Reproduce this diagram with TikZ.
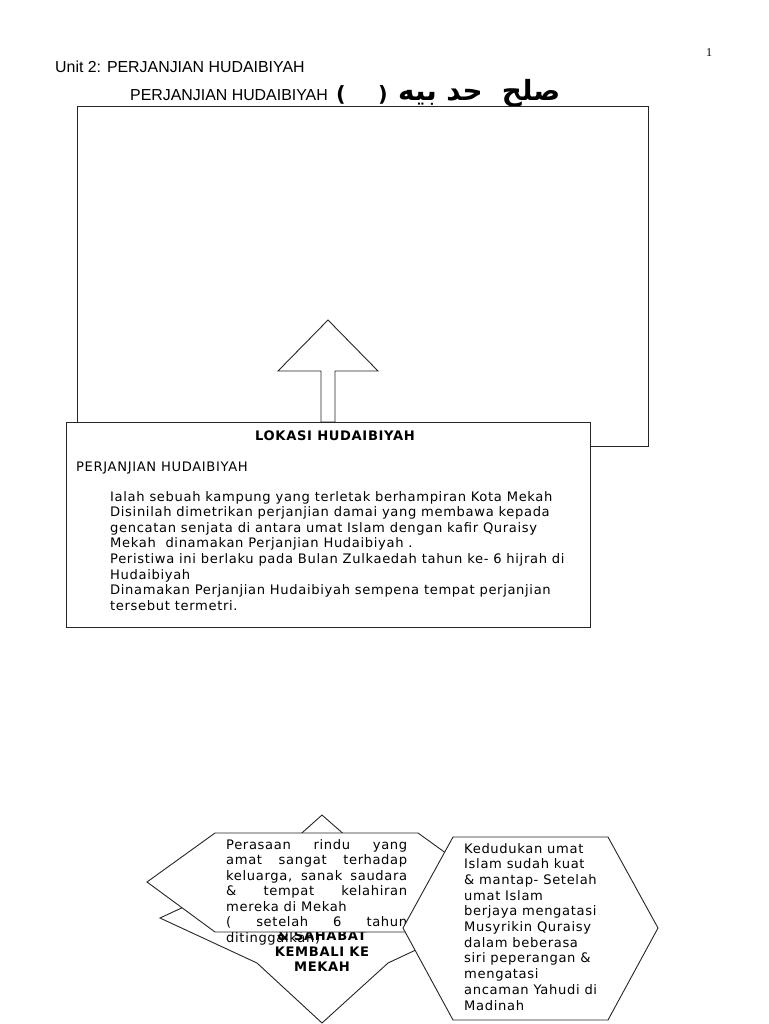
\documentclass[tikz,border=0pt]{standalone}
\usepackage{fontspec}
\setmainfont[LetterSpace=5]{DejaVu Sans}
\newfontfamily\headfont{Liberation Sans}
\newfontfamily\numfont{Liberation Serif}
\newfontfamily\arabicfont[Script=Arabic]{DejaVu Sans}
\TeXXeTstate=1
\begin{document}
\begin{tikzpicture}[x=1pt,y=-1pt,
  shapeline/.style={draw=black!85, line width=0.9pt, fill=white},
  txt/.style={inner sep=0pt, anchor=base west, font=\fontsize{13.1}{15.6}\selectfont},
  head/.style={inner sep=0pt, anchor=base west, font=\headfont\fontsize{15.9}{18}\selectfont},
  boldtxt/.style={inner sep=0pt, anchor=base, font=\bfseries\fontsize{13.1}{15.6}\selectfont}]
\useasboundingbox[fill=white] (0,0) rectangle (768,1024);

% header
\node[inner sep=0pt, anchor=base, font=\numfont\fontsize{12}{14}\selectfont] (pg) at (709,57) {1};
\node[head] (unit) at (55,73) {Unit 2: PERJANJIAN HUDAIBIYAH};
\node[head] (sub) at (130,101) {PERJANJIAN HUDAIBIYAH};
\node[inner sep=0pt, anchor=base, font=\bfseries\fontsize{21}{22}\selectfont] (lp) at (341,102) {(};
\node[inner sep=0pt, anchor=base, font=\bfseries\fontsize{21}{22}\selectfont] (rp) at (383,102) {)};
\node[inner sep=0pt, anchor=base west, font=\arabicfont\bfseries\fontsize{27.8}{30}\selectfont] (ar) at (398,101) {\beginR صلح\ \ حد بيه\endR};

% top box
\draw[shapeline, fill=none] (77,106) rectangle (648,446);

% block arrow
\draw[shapeline] (328,320) -- (378,371) -- (335,371) -- (335,422) -- (321,422) -- (321,371) -- (278,371) -- cycle;

% lokasi box
\draw[shapeline] (66,422) rectangle (590,627);
\node[boldtxt] (lokasi) at (335,440) {LOKASI HUDAIBIYAH};
\node[txt] (pj) at (76,471) {PERJANJIAN HUDAIBIYAH};
\node[txt] (body) at (110,501) {\parbox[t]{475pt}{\raggedright
Ialah sebuah kampung yang terletak berhampiran Kota Mekah\\
Disinilah dimetrikan perjanjian damai yang membawa kepada\\
gencatan senjata di antara umat Islam dengan kafir Quraisy\\
Mekah\ \ dinamakan Perjanjian Hudaibiyah .\\
Peristiwa ini berlaku pada Bulan Zulkaedah tahun ke- 6 hijrah di\\
Hudaibiyah\\
Dinamakan Perjanjian Hudaibiyah sempena tempat perjanjian\\
tersebut termetri.}};

% star shape behind
\draw[shapeline] (322,815) -- (388,873) -- (484,918) -- (388,963) -- (322,1023) -- (257,963) -- (160,918) -- (257,873) -- cycle;
\node[boldtxt] (st1) at (322,940) {\& SAHABAT};
\node[boldtxt] (st2) at (322,956) {KEMBALI KE};
\node[boldtxt] (st3) at (322,971) {MEKAH};

% left hexagon
\draw[shapeline] (215,833) -- (418,833) -- (486,882) -- (418,932) -- (215,932) -- (147,882) -- cycle;
\node[txt, font=\fontsize{13.1}{15.5}\selectfont] (lh) at (226,849) {\parbox[t]{181pt}{%
\makebox[181pt][s]{Perasaan rindu yang}\\
\makebox[181pt][s]{amat sangat terhadap}\\
\makebox[181pt][s]{keluarga, sanak saudara}\\
\makebox[181pt][s]{\& tempat kelahiran}\\
mereka di Mekah\\
\makebox[181pt][s]{( setelah 6 tahun}\\
ditinggalkan)}};

% right hexagon
\draw[shapeline] (453,837) -- (608,837) -- (658,928) -- (608,1020) -- (453,1020) -- (403,928) -- cycle;
\node[txt, font=\fontsize{13.1}{15.7}\selectfont] (rh) at (464,853) {\parbox[t]{190pt}{\raggedright
Kedudukan umat\\
Islam sudah kuat\\
\& mantap- Setelah\\
umat Islam\\
berjaya mengatasi\\
Musyrikin Quraisy\\
dalam beberasa\\
siri peperangan \&\\
mengatasi\\
ancaman Yahudi di\\
Madinah}};
\end{tikzpicture}
\end{document}
